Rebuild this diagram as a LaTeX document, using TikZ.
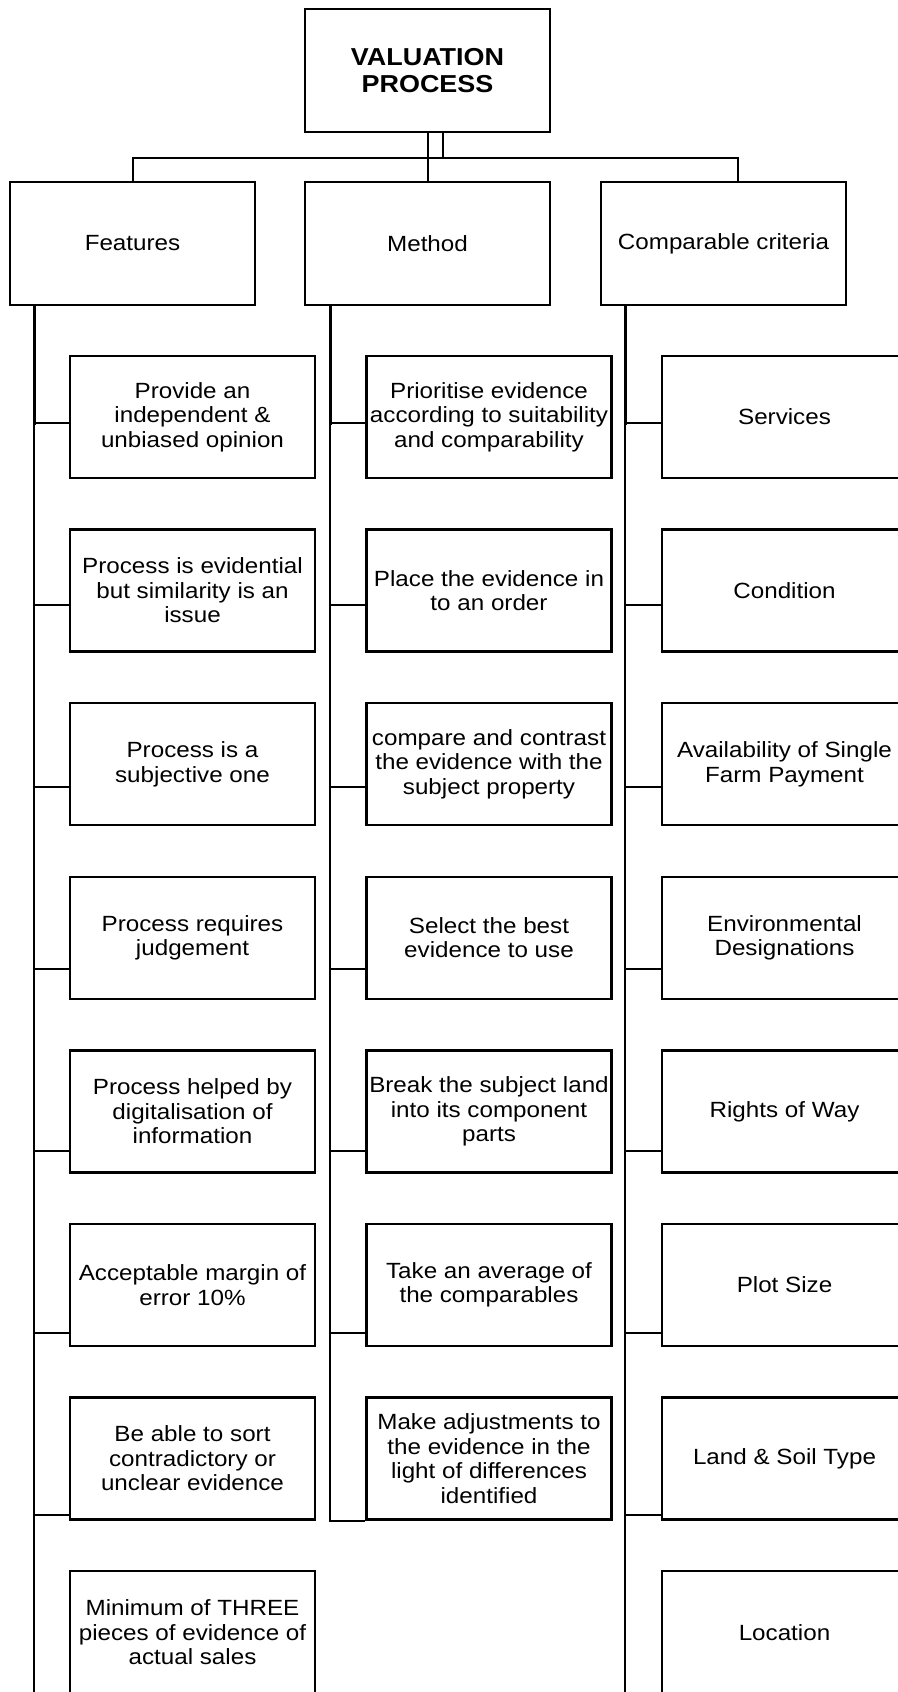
\documentclass[tikz,border=0pt]{standalone}
\usepackage{fontspec}
\setmainfont{Liberation Sans}[FakeStretch=1.1]
\begin{document}
\begin{tikzpicture}[x=1pt,y=-1pt,
  box/.style={draw,line width=2.5pt,minimum width=245pt,minimum height=122pt,
    inner sep=0pt,align=center,font=\fontsize{22}{24.5}\selectfont},
  headbox/.style={box,minimum height=123pt,font=\fontsize{24.5}{26.7}\selectfont\bfseries},
  link/.style={line width=2pt},
  trunk/.style={line width=#1},
  trunk/.default=2.4pt]
\useasboundingbox (0,0) rectangle (897,1692);

% top level and the three headings
\node[headbox] (vp) at (427.5,70.5) {VALUATION\\PROCESS};
\node[box,minimum height=123pt] (feat) at (132.5,243.5) {Features};
\node[box,minimum height=123pt] (meth) at (427.5,243.5) {Method};
\node[box,minimum height=123pt] (comp) at (723.5,243.5) {Comparable criteria};

\coordinate (busR) at (738,158);
\coordinate (dblR) at (442.5,158);
\draw[link] (vp.south) -- (meth.north);
\draw[link] (vp.south -| dblR) -- (dblR);
\draw[link] (feat.north) |- (busR) -- (comp.north -| busR);

% Features column
\node[box] (f1) at (192.5,417)   {Provide an\\independent \&\\unbiased opinion};
\node[box] (f2) at (192.5,590.6) {Process is evidential\\but similarity is an\\issue};
\node[box] (f3) at (192.5,764.2) {Process is a\\subjective one};
\node[box] (f4) at (192.5,937.8) {Process requires\\judgement};
\node[box] (f5) at (192.5,1111.4) {Process helped by\\digitalisation of\\information};
\node[box] (f6) at (192.5,1285)  {Acceptable margin of\\error 10\%};
\node[box] (f7) at (192.5,1458.6) {Be able to sort\\contradictory or\\unclear evidence};
\node[box] (f8) at (192.5,1632.2) {Minimum of THREE\\pieces of evidence of\\actual sales};

% Method column
\node[box] (m1) at (489,417)   {Prioritise evidence\\according to suitability\\and comparability};
\node[box] (m2) at (489,590.6) {Place the evidence in\\to an order};
\node[box] (m3) at (489,764.2) {compare and contrast\\the evidence with the\\subject property};
\node[box] (m4) at (489,937.8) {Select the best\\evidence to use};
\node[box] (m5) at (489,1111.4) {Break the subject land\\into its component\\parts};
\node[box] (m6) at (489,1285)  {Take an average of\\the comparables};
\node[box] (m7) at (489,1458.6) {Make adjustments to\\the evidence in the\\light of differences\\identified};

% Comparable criteria column
\node[box] (c1) at (784.5,417)   {Services};
\node[box] (c2) at (784.5,590.6) {Condition};
\node[box] (c3) at (784.5,764.2) {Availability of Single\\Farm Payment};
\node[box] (c4) at (784.5,937.8) {Environmental\\Designations};
\node[box] (c5) at (784.5,1111.4) {Rights of Way};
\node[box] (c6) at (784.5,1285)  {Plot Size};
\node[box] (c7) at (784.5,1458.6) {Land \& Soil Type};
\node[box] (c8) at (784.5,1632.2) {Location};

% trunks, drawn in segments that thin out towards the bottom
\coordinate (ft) at (34,305);
\coordinate (mt) at (330,305);
\coordinate (ct) at (625,305);
\foreach \a/\b/\w in {305/423/3pt,423/605/2.9pt,605/787/2.7pt,787/969/2.4pt,
                      969/1151/2.1pt,1151/1333/1.9pt,1333/1515/1.8pt,1515/1700/1.7pt}{
  \draw[trunk=\w,line cap=rect] (34,\a) -- (34,\b);
  \draw[trunk=\w,line cap=rect] (625,\a) -- (625,\b);
}
\foreach \a/\b/\w in {305/423/3pt,423/605/2.9pt,605/787/2.7pt,787/969/2.4pt,
                      969/1151/2.1pt,1151/1333/1.9pt}{
  \draw[trunk=\w,line cap=rect] (330,\a) -- (330,\b);
}
\draw[trunk=1.8pt] (330,1333) |- (m7.south west);

% branches
\foreach \r/\y in {1/423,2/605,3/787,4/969,5/1151,6/1333,7/1515}{
  \draw[link] (34,\y) -- (f\r.west |- 0,\y);
  \draw[link] (625,\y) -- (c\r.west |- 0,\y);
}
\foreach \r/\y in {1/423,2/605,3/787,4/969,5/1151,6/1333}{
  \draw[link] (330,\y) -- (m\r.west |- 0,\y);
}
\end{tikzpicture}
\end{document}
